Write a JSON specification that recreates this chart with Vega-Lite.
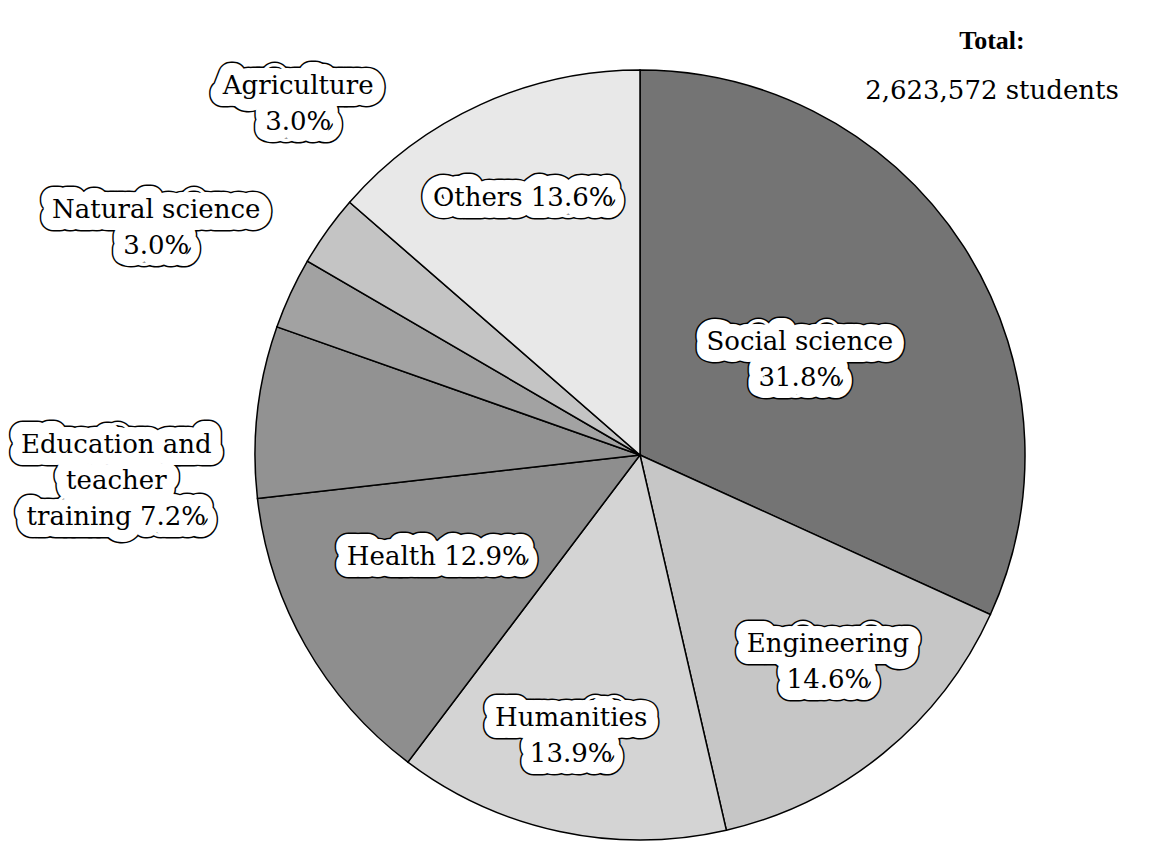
{
  "$schema": "https://vega.github.io/schema/vega-lite/v6.json",
  "width": 1022,
  "height": 772,
  "autosize": {"type": "none"},
  "padding": {"left": 129, "top": 69, "right": 0, "bottom": 0},
  "background": "white",
  "config": {"view": {"stroke": null}},
  "title": {
    "text": "Total:",
    "subtitle": "2,623,572 students",
    "anchor": "end",
    "frame": "group",
    "align": "center",
    "dx": -159,
    "offset": -37,
    "subtitlePadding": 24,
    "font": "Liberation Serif",
    "fontSize": 26,
    "fontWeight": "bold",
    "color": "black",
    "subtitleFont": "DejaVu Serif",
    "subtitleFontSize": 26,
    "subtitleFontWeight": "normal",
    "subtitleColor": "black"
  },
  "data": {
    "values": [
      {"cat": "Social science", "pct": 31.8, "idx": 1, "label": "Social science\n31.8%"},
      {"cat": "Engineering", "pct": 14.6, "idx": 2, "label": "Engineering\n14.6%"},
      {"cat": "Humanities", "pct": 13.9, "idx": 3, "label": "Humanities\n13.9%"},
      {"cat": "Health", "pct": 12.9, "idx": 4, "label": "Health 12.9%"},
      {"cat": "Education and teacher training", "pct": 7.2, "idx": 5, "label": "Education and\nteacher\ntraining 7.2%"},
      {"cat": "Natural science", "pct": 3.0, "idx": 6, "label": "Natural science\n3.0%"},
      {"cat": "Agriculture", "pct": 3.0, "idx": 7, "label": "Agriculture\n3.0%"},
      {"cat": "Others", "pct": 13.6, "idx": 8, "label": "Others 13.6%"}
    ]
  },
  "encoding": {
    "theta": {"field": "pct", "type": "quantitative", "stack": true},
    "order": {"field": "idx", "type": "quantitative"},
    "text": {"field": "label", "type": "nominal"}
  },
  "layer": [
    {
      "mark": {"type": "arc", "outerRadius": 385, "stroke": "black", "strokeWidth": 1.5},
      "encoding": {
        "color": {
          "field": "cat",
          "type": "nominal",
          "legend": null,
          "scale": {
            "domain": ["Social science", "Engineering", "Humanities", "Health", "Education and teacher training", "Natural science", "Agriculture", "Others"],
            "range": ["#747474", "#c6c6c6", "#d4d4d4", "#8e8e8e", "#929292", "#a2a2a2", "#c4c4c4", "#e8e8e8"]
          }
        }
      }
    },
    {
      "mark": {
        "type": "text",
        "font": "DejaVu Serif",
        "fontSize": 26,
        "lineHeight": 36,
        "lineBreak": "\n",
        "align": "center",
        "baseline": "middle",
        "fill": "black",
        "stroke": "black",
        "strokeWidth": 27,
        "strokeJoin": "round",
        "radius": {"expr": "datum.cat==='Social science'?196:datum.cat==='Engineering'?267:datum.cat==='Humanities'?272:datum.cat==='Health'?227:datum.cat==='Education and teacher training'?524:datum.cat==='Natural science'?543:datum.cat==='Agriculture'?503:282"},
        "dx": {"expr": "datum.cat==='Social science'?-5:datum.cat==='Engineering'?19:datum.cat==='Humanities'?-12:datum.cat==='Health'?-6:datum.cat==='Education and teacher training'?-3:datum.cat==='Natural science'?9:datum.cat==='Agriculture'?67:0"},
        "dy": {"expr": "datum.cat==='Social science'?-7:datum.cat==='Engineering'?-18:datum.cat==='Humanities'?-3:datum.cat==='Health'?-10:datum.cat==='Education and teacher training'?49:datum.cat==='Natural science'?-17:datum.cat==='Agriculture'?-76:0"}
      }
    },
    {
      "mark": {
        "type": "text",
        "font": "DejaVu Serif",
        "fontSize": 26,
        "lineHeight": 36,
        "lineBreak": "\n",
        "align": "center",
        "baseline": "middle",
        "fill": "white",
        "stroke": "white",
        "strokeWidth": 24,
        "strokeJoin": "round",
        "radius": {"expr": "datum.cat==='Social science'?196:datum.cat==='Engineering'?267:datum.cat==='Humanities'?272:datum.cat==='Health'?227:datum.cat==='Education and teacher training'?524:datum.cat==='Natural science'?543:datum.cat==='Agriculture'?503:282"},
        "dx": {"expr": "datum.cat==='Social science'?-5:datum.cat==='Engineering'?19:datum.cat==='Humanities'?-12:datum.cat==='Health'?-6:datum.cat==='Education and teacher training'?-3:datum.cat==='Natural science'?9:datum.cat==='Agriculture'?67:0"},
        "dy": {"expr": "datum.cat==='Social science'?-7:datum.cat==='Engineering'?-18:datum.cat==='Humanities'?-3:datum.cat==='Health'?-10:datum.cat==='Education and teacher training'?49:datum.cat==='Natural science'?-17:datum.cat==='Agriculture'?-76:0"}
      }
    },
    {
      "mark": {
        "type": "text",
        "font": "DejaVu Serif",
        "fontSize": 26,
        "lineHeight": 36,
        "lineBreak": "\n",
        "align": "center",
        "baseline": "middle",
        "fill": "black",
        "radius": {"expr": "datum.cat==='Social science'?196:datum.cat==='Engineering'?267:datum.cat==='Humanities'?272:datum.cat==='Health'?227:datum.cat==='Education and teacher training'?524:datum.cat==='Natural science'?543:datum.cat==='Agriculture'?503:282"},
        "dx": {"expr": "datum.cat==='Social science'?-5:datum.cat==='Engineering'?19:datum.cat==='Humanities'?-12:datum.cat==='Health'?-6:datum.cat==='Education and teacher training'?-3:datum.cat==='Natural science'?9:datum.cat==='Agriculture'?67:0"},
        "dy": {"expr": "datum.cat==='Social science'?-7:datum.cat==='Engineering'?-18:datum.cat==='Humanities'?-3:datum.cat==='Health'?-10:datum.cat==='Education and teacher training'?49:datum.cat==='Natural science'?-17:datum.cat==='Agriculture'?-76:0"}
      }
    }
  ]
}
